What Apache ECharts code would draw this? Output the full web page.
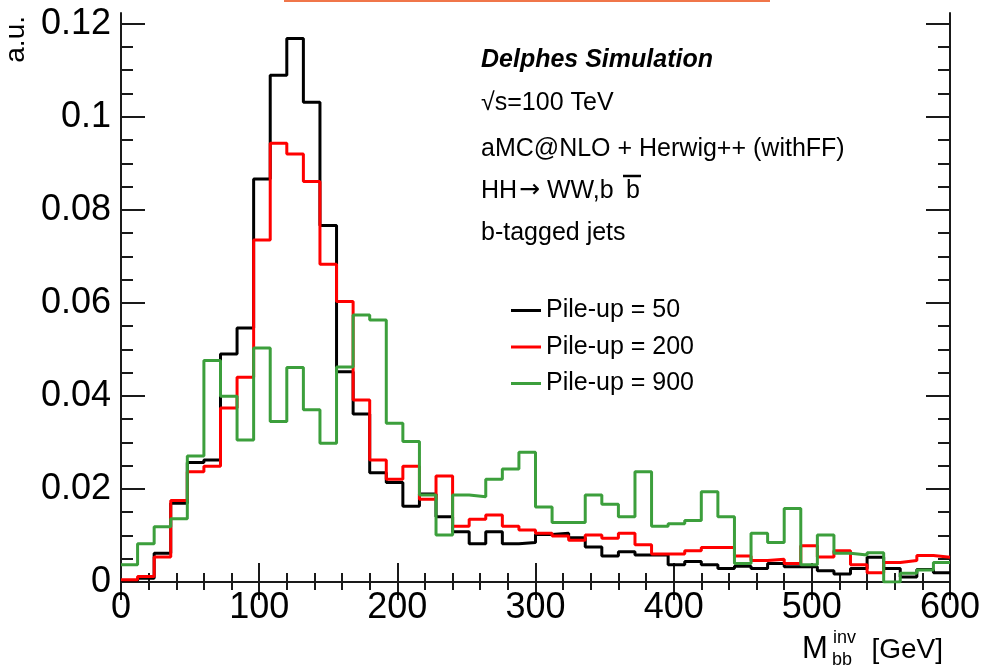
<!DOCTYPE html>
<html>
<head>
<meta charset="utf-8">
<title>M_bb invariant mass, b-tagged jets</title>
<script src="https://cdn.jsdelivr.net/npm/echarts@6/dist/echarts.min.js"></script>
<style>
  html, body { margin: 0; padding: 0; background: #ffffff; }
  #chart { width: 986px; height: 672px; }
</style>
</head>
<body>
<div id="chart"></div>
<script>
// Histogram binning (GeV): 50 bins of 12 GeV from 0 to 600
const BIN_WIDTH = 12;
const X_MIN = 0;
const X_MAX = 600;
const Y_MAX = 0.1223;

const seriesNames = ['Pile-up = 50', 'Pile-up = 200', 'Pile-up = 900'];

// Normalised bin contents (a.u.), one entry per bin
const pileup50 = [
  0.0003, 0.0008, 0.0062, 0.0169, 0.0257, 0.0262, 0.0490, 0.0546, 0.0866, 0.1089,
  0.1168, 0.1031, 0.0766, 0.0452, 0.0361, 0.0235, 0.0214, 0.0163, 0.0189, 0.0140,
  0.0108, 0.0082, 0.0108, 0.0082, 0.0085, 0.0102, 0.0105, 0.0095, 0.0075, 0.0056,
  0.0065, 0.0058, 0.0058, 0.0037, 0.0044, 0.0037, 0.0029, 0.0034, 0.0029, 0.0040,
  0.0033, 0.0033, 0.0024, 0.0017, 0.0029, 0.0053, 0.0029, 0.0011, 0.0027, 0.0020
];
const pileup200 = [
  0.0005, 0.0012, 0.0054, 0.0175, 0.0237, 0.0249, 0.0374, 0.0440, 0.0735, 0.0943,
  0.0920, 0.0861, 0.0683, 0.0603, 0.0391, 0.0262, 0.0221, 0.0249, 0.0178, 0.0228,
  0.0120, 0.0135, 0.0144, 0.0120, 0.0112, 0.0105, 0.0099, 0.0090, 0.0101, 0.0094,
  0.0105, 0.0080, 0.0060, 0.0060, 0.0067, 0.0074, 0.0074, 0.0056, 0.0046, 0.0049,
  0.0040, 0.0078, 0.0054, 0.0067, 0.0037, 0.0020, 0.0042, 0.0046, 0.0057, 0.0053
];
const pileup900 = [
  0.0037, 0.0082, 0.0119, 0.0136, 0.0271, 0.0476, 0.0399, 0.0305, 0.0503, 0.0345,
  0.0461, 0.0370, 0.0298, 0.0462, 0.0574, 0.0563, 0.0341, 0.0302, 0.0187, 0.0101,
  0.0187, 0.0183, 0.0221, 0.0243, 0.0279, 0.0161, 0.0128, 0.0128, 0.0187, 0.0167,
  0.0140, 0.0237, 0.0120, 0.0125, 0.0132, 0.0194, 0.0140, 0.0040, 0.0105, 0.0085,
  0.0158, 0.0037, 0.0101, 0.0062, 0.0058, 0.0063, 0.0000, 0.0019, 0.0026, 0.0042
];

const seriesColors = ['#000000', '#ff0000', '#3c9f3c'];

// Axis tick positions
const yMajorTicks = [0, 0.02, 0.04, 0.06, 0.08, 0.1, 0.12];
const yMinorTicks = [0.005, 0.01, 0.015, 0.025, 0.03, 0.035, 0.045, 0.05, 0.055,
  0.065, 0.07, 0.075, 0.085, 0.09, 0.095, 0.105, 0.11, 0.115];
const X_INTERVAL = 100;

const FONT = '"Liberation Sans", Arial, Helvetica, sans-serif';
const FRAME = { color: '#1a1a1a', width: 2 };

// Build step-histogram points: value held from each low edge to the next one
function histPoints(values) {
  const pts = values.map((v, i) => [X_MIN + i * BIN_WIDTH, v]);
  pts.push([X_MIN + values.length * BIN_WIDTH, values[values.length - 1]]);
  return pts;
}

function yAxisDef(position, ticks, length, showLine, showLabel) {
  return {
    type: 'value', min: 0, max: Y_MAX, position: position,
    axisLine: { show: showLine, lineStyle: FRAME },
    axisTick: { show: true, inside: true, length: length, customValues: ticks, lineStyle: FRAME },
    axisLabel: showLabel
      ? { show: true, customValues: ticks, fontSize: 36, margin: 10, color: '#000', fontFamily: FONT }
      : { show: false },
    splitLine: { show: false }
  };
}

function xAxisDef(position, major, minor, showLabel) {
  return {
    type: 'value', min: X_MIN, max: X_MAX, interval: X_INTERVAL, position: position,
    axisLine: { show: true, lineStyle: FRAME },
    axisTick: { show: true, inside: true, length: major, lineStyle: FRAME },
    minorTick: { show: true, splitNumber: 5, length: minor, lineStyle: FRAME },
    axisLabel: showLabel
      ? { show: true, fontSize: 36, margin: 8, color: '#000', fontFamily: FONT }
      : { show: false },
    splitLine: { show: false }, minorSplitLine: { show: false }
  };
}

const seriesData = [pileup50, pileup200, pileup900];

const chart = echarts.init(document.getElementById('chart'), null, { renderer: 'canvas' });

const textStyle = (text, x, y, extra) => Object.assign({
  type: 'text', x: x, y: y,
  style: Object.assign({ text: text, fontSize: 25, fontFamily: FONT, fill: '#000', align: 'left', verticalAlign: 'middle' }, extra || {})
});

chart.setOption({
  animation: false,
  backgroundColor: '#ffffff',
  grid: { left: 121, right: 36, top: 13, bottom: 90, containLabel: false },
  xAxis: [
    xAxisDef('bottom', 19, 9, true),
    xAxisDef('top', 18, 8, false)
  ],
  yAxis: [
    yAxisDef('left', yMajorTicks, 24, true, true),
    yAxisDef('left', yMinorTicks, 12, false, false),
    yAxisDef('right', yMajorTicks, 24, true, false),
    yAxisDef('right', yMinorTicks, 12, false, false)
  ],
  legend: {
    data: seriesNames,
    orient: 'vertical',
    left: 506, top: 293,
    itemWidth: 30, itemHeight: 3, itemGap: 11.5,
    icon: 'rect',
    selectedMode: false,
    textStyle: { fontSize: 25, color: '#000', fontFamily: FONT }
  },
  series: seriesNames.map((name, i) => ({
    name: name,
    type: 'line',
    step: 'end',
    xAxisIndex: 0, yAxisIndex: 0,
    showSymbol: false,
    symbol: 'none',
    color: seriesColors[i],
    lineStyle: { color: seriesColors[i], width: 3 },
    itemStyle: { color: seriesColors[i] },
    data: histPoints(seriesData[i]),
    z: 3 + i
  })),
  graphic: [
    // thin orange rule along the top edge
    { type: 'rect', shape: { x: 284, y: 0, width: 486, height: 2 }, style: { fill: '#f0764a' } },
    // vertical y-axis title
    { type: 'text', x: 16.5, y: 16, rotation: Math.PI / 2,
      style: { text: 'a.u.', fontSize: 28, fontFamily: FONT, fill: '#000', align: 'right', verticalAlign: 'middle' } },
    // annotation block
    textStyle('Delphes Simulation', 481, 60.6, { fontWeight: 'bold', fontStyle: 'italic' }),
    textStyle('\u221As=100 TeV', 481, 103.3),
    textStyle('aMC@NLO + Herwig++ (withFF)', 481, 149.3),
    textStyle('HH', 481, 191.3),
    textStyle('\u2192', 519, 190.5, { fontSize: 25, fontFamily: '"DejaVu Sans", sans-serif' }),
    textStyle('WW,b', 547, 191.3),
    textStyle('b', 626, 191.3),
    { type: 'line', shape: { x1: 623, y1: 176, x2: 641, y2: 176 }, style: { stroke: '#000', lineWidth: 2.5 } },
    textStyle('b-tagged jets', 481, 233.3),
    // x-axis title: M with stacked superscript "inv" and subscript "bb"
    textStyle('M', 802, 649.5, { fontSize: 31 }),
    textStyle('inv', 833, 638.5, { fontSize: 18 }),
    textStyle('bb', 832, 659.7, { fontSize: 18 }),
    textStyle('[GeV]', 943, 650, { fontSize: 28, align: 'right' })
  ]
});
</script>
</body>
</html>
